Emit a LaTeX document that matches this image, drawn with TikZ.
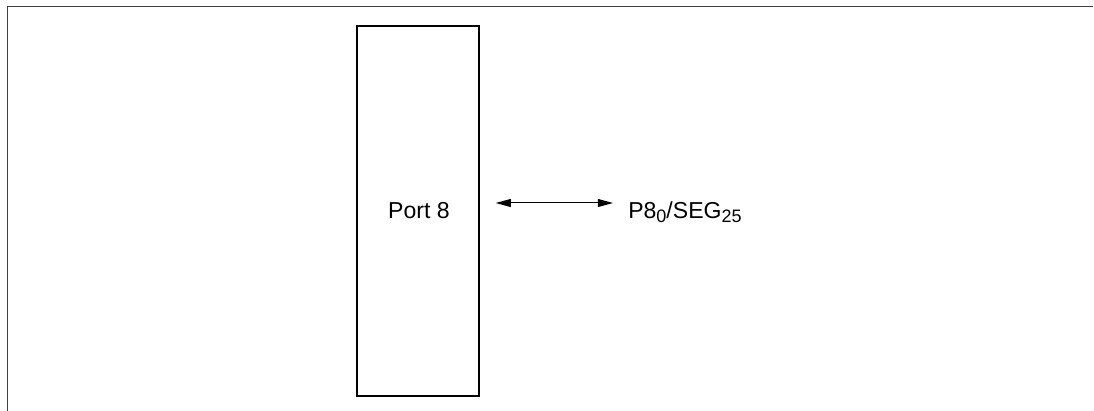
\documentclass[tikz,border=0pt]{standalone}
\usepackage{fontspec}
\setmainfont{Liberation Sans}
\usetikzlibrary{arrows.meta,positioning}
\newcommand{\pinsub}[1]{\raisebox{-2.8pt}{\fontsize{12.8}{13}\selectfont #1}}
\tikzset{
  frameline/.style={line width=1pt,draw=black!75},
  portbox/.style={draw=black,line width=1pt,minimum width=30.5mm,
                  minimum height=92.5mm,inner sep=0pt},
  lbl/.style={font=\fontsize{16.4}{19}\selectfont,inner sep=0pt},
  biarr/.style={{Triangle[length=3.8mm,width=2mm]}-{Triangle[length=3.8mm,width=2mm]},
                line width=0.7pt,draw=black}
}
\begin{document}
\begin{tikzpicture}[x=0.25mm,y=0.25mm]
    \path[use as bounding box] (0,0) rectangle (1094,411);

    % open frame: left and top edges only
    \draw[frameline] (7.5,0) -- (7.5,404.5) -- (1093,404.5);

    \node[portbox] (port) at (418,200) {};
    \node[lbl,anchor=base] (portlabel) at (419,192) {Port 8};
    \node[lbl,anchor=base west] (pin) at (628,192)
      {P8\pinsub{0}/SEG\pinsub{25}};

    \coordinate (pinrow) at (560,208);
    \draw[biarr,shorten <=4mm,shorten >=3.75mm]
      (port.east |- pinrow) -- (pin.west |- pinrow);
  \end{tikzpicture}
\end{document}
